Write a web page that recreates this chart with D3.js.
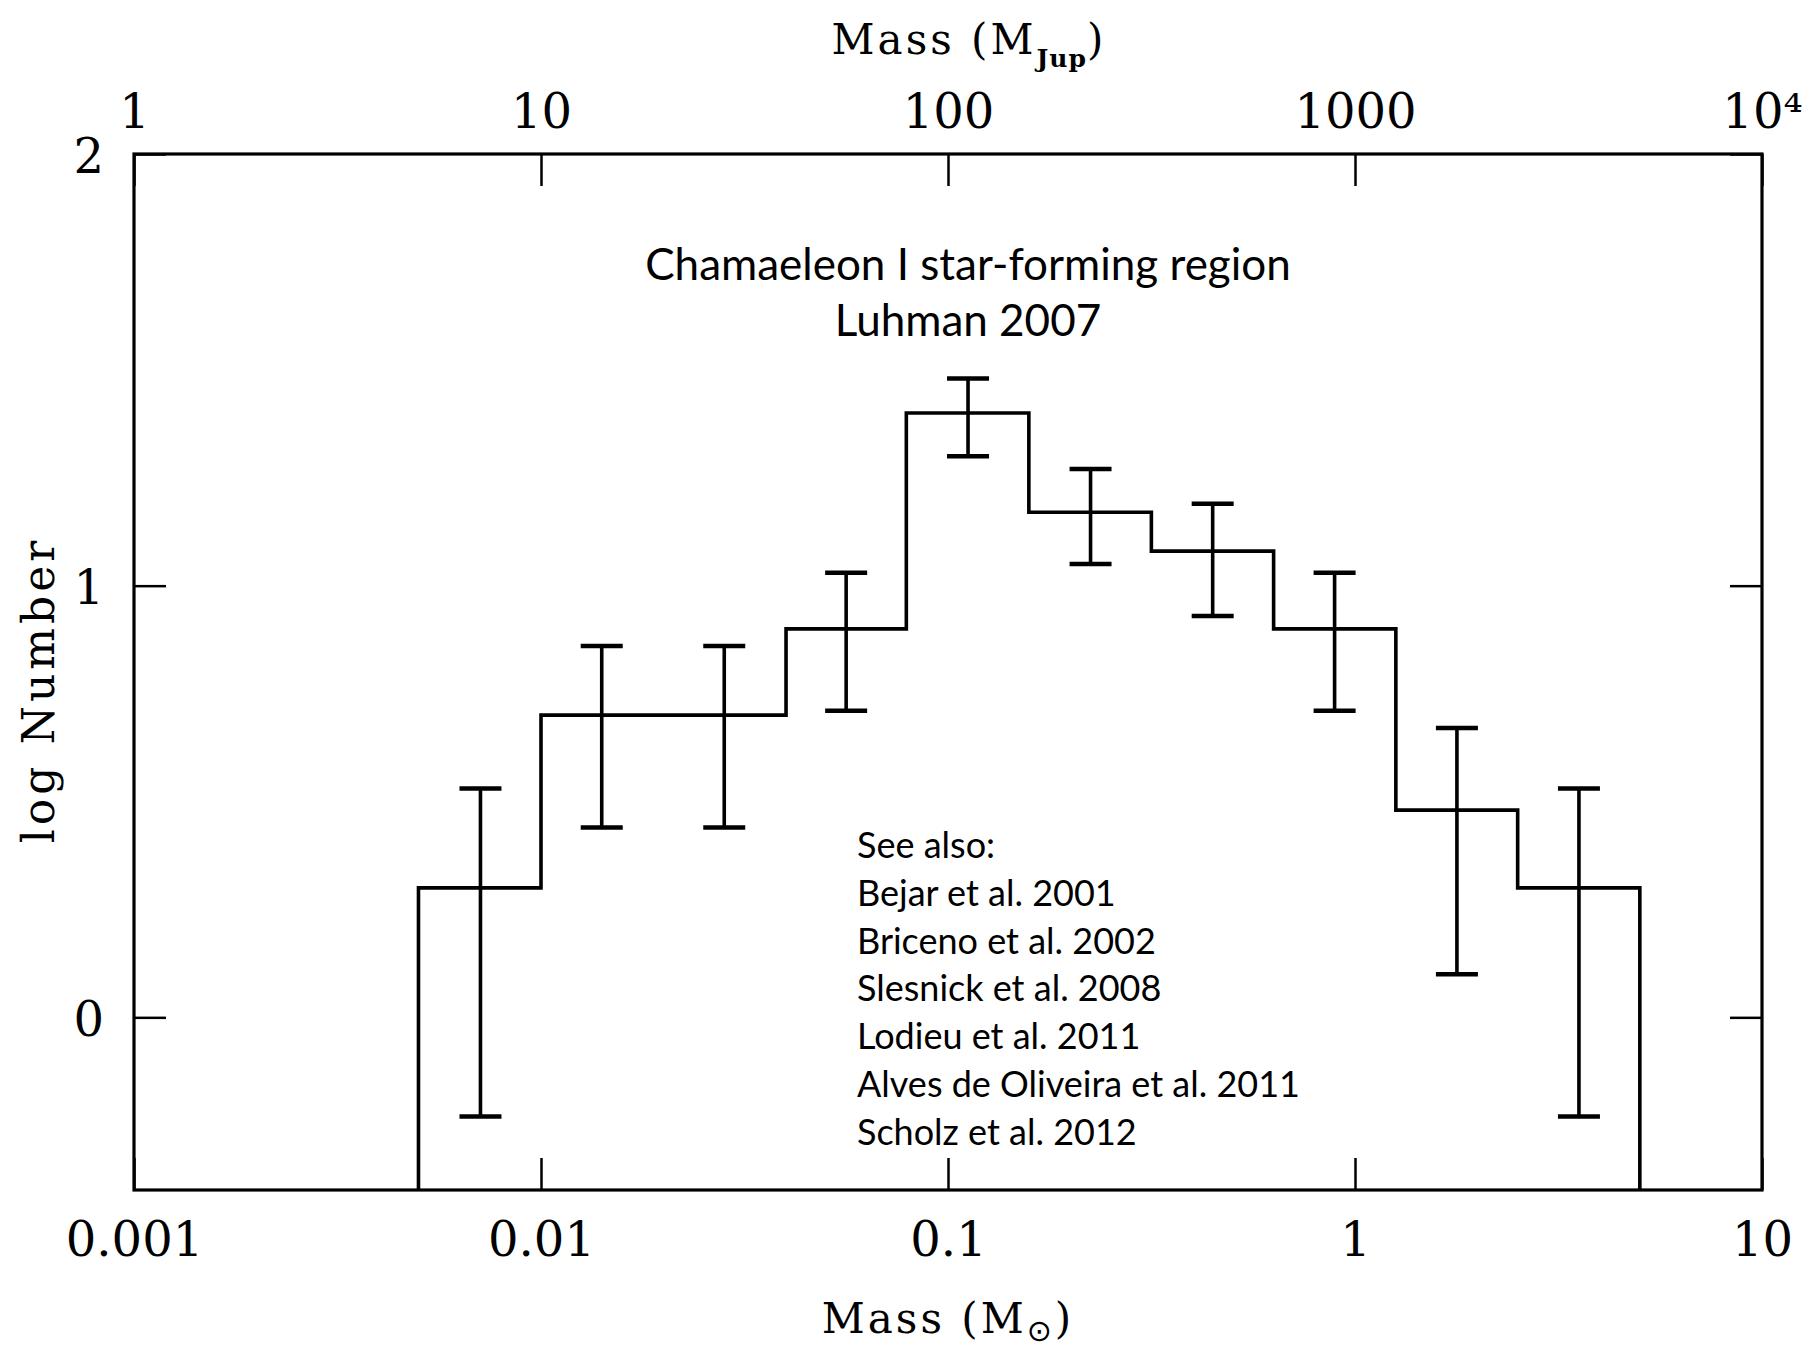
<!DOCTYPE html>
<html>
<head>
<meta charset="utf-8">
<script src="https://cdn.jsdelivr.net/npm/d3@7"></script>
<style>
  html, body { margin: 0; padding: 0; background: #fff; }
  svg { display: block; }
  .serif { font-family: "DejaVu Serif", "Liberation Serif", serif; fill: #000; }
  .sans { font-family: Lato, "Open Sans", sans-serif; fill: #000; }
</style>
</head>
<body>
<svg id="chart" width="1812" height="1353"></svg>
<script>
// ---- Data ----
// Bin edges in solar masses
const binEdges = [0.005, 0.01, 0.02, 0.04, 0.079, 0.158, 0.316, 0.631, 1.26, 2.51, 5.01];
// Bin centres (error bar positions) in solar masses
const binCenters = [0.0071, 0.0141, 0.0282, 0.0562, 0.112, 0.224, 0.447, 0.891, 1.78, 3.55];
// log Number per bin
const logN = [0.30, 0.70, 0.70, 0.90, 1.40, 1.17, 1.08, 0.90, 0.48, 0.30];
// Error bar upper and lower ends
const errHigh = [0.53, 0.86, 0.86, 1.03, 1.48, 1.27, 1.19, 1.03, 0.67, 0.53];
const errLow = [-0.23, 0.44, 0.44, 0.71, 1.30, 1.05, 0.93, 0.71, 0.10, -0.23];

// Axis ticks
const bottomTicks = [0.001, 0.01, 0.1, 1, 10];
const bottomTickLabels = ["0.001", "0.01", "0.1", "1", "10"];
const topTicks = [1, 10, 100, 1000, 10000];
const topTickLabels = ["1", "10", "100", "1000", "10\u2074"];
const yTicks = [0, 1, 2];
const yTickLabels = ["0", "1", "2"];

const titleLines = ["Chamaeleon I star-forming region", "Luhman 2007"];
const seeAlso = ["See also:", "Bejar et al. 2001", "Briceno et al. 2002", "Slesnick et al. 2008",
  "Lodieu et al. 2011", "Alves de Oliveira et al. 2011", "Scholz et al. 2012"];

// ---- Layout ----
const L = 134, R = 1762, T = 154, B = 1190;
const svg = d3.select("#chart");

const x = d3.scaleLog().domain([0.001, 10]).range([L, R]);
const xTop = d3.scaleLog().domain([1, 10000]).range([L, R]);
const y = d3.scaleLinear().domain([-0.4, 2]).range([B, T]);
const yMin = y.domain()[0];

// Axes
const axisFont = 48;
function styleAxis(g) {
  g.select(".domain").remove();
  g.selectAll(".tick line").attr("stroke", "#000").attr("stroke-width", 2.5);
  g.selectAll(".tick text").attr("class", "serif").attr("font-size", axisFont).attr("fill", "#000");
}

svg.append("g").attr("transform", `translate(0,${B})`)
  .call(d3.axisBottom(x).tickValues(bottomTicks).tickSizeInner(-32).tickSizeOuter(0).tickPadding(32)
    .tickFormat((d, i) => bottomTickLabels[i]))
  .call(styleAxis);

svg.append("g").attr("transform", `translate(0,${T})`)
  .call(d3.axisTop(xTop).tickValues(topTicks).tickSizeInner(-32).tickSizeOuter(0).tickPadding(26)
    .tickFormat((d, i) => topTickLabels[i]))
  .call(styleAxis);

svg.append("g").attr("transform", `translate(${L},0)`)
  .call(d3.axisLeft(y).tickValues(yTicks).tickSizeInner(-32).tickSizeOuter(0).tickPadding(30)
    .tickFormat((d, i) => yTickLabels[i]))
  .call(styleAxis)
  .selectAll(".tick text").attr("dy", "0.38em");

svg.append("g").attr("transform", `translate(${R},0)`)
  .call(d3.axisRight(y).tickValues(yTicks).tickSizeInner(-32).tickSizeOuter(0).tickFormat(""))
  .call(styleAxis);

// Frame
svg.append("rect").attr("x", L).attr("y", T).attr("width", R - L).attr("height", B - T)
  .attr("fill", "none").attr("stroke", "#000").attr("stroke-width", 3.2);

// Histogram (step outline)
const pts = [[binEdges[0], yMin]];
logN.forEach((v, i) => { pts.push([binEdges[i], v]); pts.push([binEdges[i + 1], v]); });
pts.push([binEdges[binEdges.length - 1], yMin]);
const line = d3.line().x(d => x(d[0])).y(d => y(d[1]));
svg.append("path").attr("d", line(pts)).attr("fill", "none")
  .attr("stroke", "#000").attr("stroke-width", 3.6).attr("stroke-linejoin", "miter");

// Error bars
const capHalf = 21;
const eb = svg.append("g").attr("stroke", "#000");
binCenters.forEach((c, i) => {
  eb.append("line").attr("x1", x(c)).attr("x2", x(c)).attr("y1", y(errLow[i])).attr("y2", y(errHigh[i]))
    .attr("stroke-width", 3.6);
  [errLow[i], errHigh[i]].forEach(v => {
    eb.append("line").attr("x1", x(c) - capHalf).attr("x2", x(c) + capHalf).attr("y1", y(v)).attr("y2", y(v))
      .attr("stroke-width", 4.5);
  });
});

// Axis titles
const topTitle = svg.append("text").attr("class", "serif").attr("x", 969).attr("y", 54)
  .attr("text-anchor", "middle").attr("font-size", 42).attr("letter-spacing", 3);
topTitle.append("tspan").text("Mass (M");
topTitle.append("tspan").attr("font-size", 25).attr("font-weight", "bold").attr("dy", 13).attr("letter-spacing", 1).text("Jup");
topTitle.append("tspan").attr("dy", -13).text(")");

const botTitle = svg.append("text").attr("class", "serif").attr("x", 948).attr("y", 1333)
  .attr("text-anchor", "middle").attr("font-size", 42).attr("letter-spacing", 3);
botTitle.append("tspan").text("Mass (M");
botTitle.append("tspan").attr("font-size", 30).attr("dy", 8).attr("font-family", "DejaVu Sans").text("\u2299");
botTitle.append("tspan").attr("dy", -8).text(")");

svg.append("text").attr("class", "serif").attr("font-size", 44).attr("letter-spacing", 4)
  .attr("text-anchor", "middle")
  .attr("transform", "translate(54,690) rotate(-90)")
  .text("log Number");

// Annotation texts
svg.append("g").selectAll("text").data(titleLines).join("text")
  .attr("class", "sans").attr("x", 968).attr("y", (d, i) => 280 + i * 56)
  .attr("text-anchor", "middle").attr("font-size", 44).text(d => d);

svg.append("g").selectAll("text").data(seeAlso).join("text")
  .attr("class", "sans").attr("x", 857).attr("y", (d, i) => 858 + i * 47.8)
  .attr("font-size", 36).text(d => d);
</script>
</body>
</html>
